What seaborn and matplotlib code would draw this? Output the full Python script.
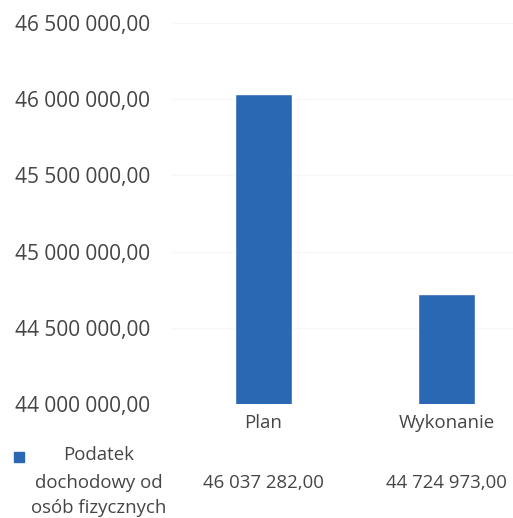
import matplotlib
matplotlib.use("Agg")
import matplotlib.pyplot as plt
import seaborn as sns
import pandas as pd
from matplotlib.patches import Rectangle

# data
categories = ["Plan", "Wykonanie"]
values = [46037282.00, 44724973.00]
series_lines = ["Podatek", "dochodowy od", "osób fizycznych"]
y_ticks = [44000000, 44500000, 45000000, 45500000, 46000000, 46500000]

BAR_COLOR = "#2B68B4"
TEXT_COLOR = "#454545"
W, H = 513, 518


def pl_format(v):
    """Polish number format: space as thousands separator, comma for decimals"""
    s = f"{v:,.2f}"
    return s.replace(",", " ").replace(".", ",")


def fy(py):
    # pixel row -> figure fraction
    return 1 - py / H


sns.set_theme(style="white")
plt.rcParams['font.family'] = ['Open Sans', 'DejaVu Sans']

df = pd.DataFrame({"kategoria": categories, "kwota": values})

fig = plt.figure(figsize=(W / 100, H / 100), dpi=100)
ax = fig.add_axes([172 / W, fy(404), 1 - 172 / W, (404 - 23) / H])

sns.barplot(data=df, x="kategoria", y="kwota", color=BAR_COLOR,
            width=0.31, saturation=1, ax=ax)

ax.set_ylim(y_ticks[0], y_ticks[-1])
ax.set_xlim(-0.5, 1.363)
ax.set_yticks(y_ticks)
ax.set_yticklabels([pl_format(t) for t in y_ticks], fontsize=15, color=TEXT_COLOR)
ax.tick_params(axis="y", length=0, pad=16)
ax.set_xticks([])
ax.set_xlabel("")
ax.set_ylabel("")
ax.yaxis.grid(True, color="#F7F7F7", linewidth=1)
ax.set_axisbelow(True)
for s in ax.spines.values():
    s.set_visible(False)

# data table below the plot
trans = ax.transData + fig.transFigure.inverted()
for i, (cat, val) in enumerate(zip(categories, values)):
    xf = trans.transform((i, y_ticks[0]))[0]
    fig.text(xf, fy(423), cat, ha="center", va="center",
             fontsize=13.4, color=TEXT_COLOR)
    fig.text(xf, fy(483), pl_format(val), ha="center", va="center",
             fontsize=13.4, color=TEXT_COLOR)

for line, py in zip(series_lines, [455, 483, 508]):
    fig.text(99 / W, fy(py), line, ha="center", va="center",
             fontsize=13.4, color=TEXT_COLOR)
fig.patches.append(Rectangle((14 / W, fy(462)), 10 / W, 10 / H,
                             transform=fig.transFigure, color=BAR_COLOR))

fig.savefig("out.png", dpi=100)
